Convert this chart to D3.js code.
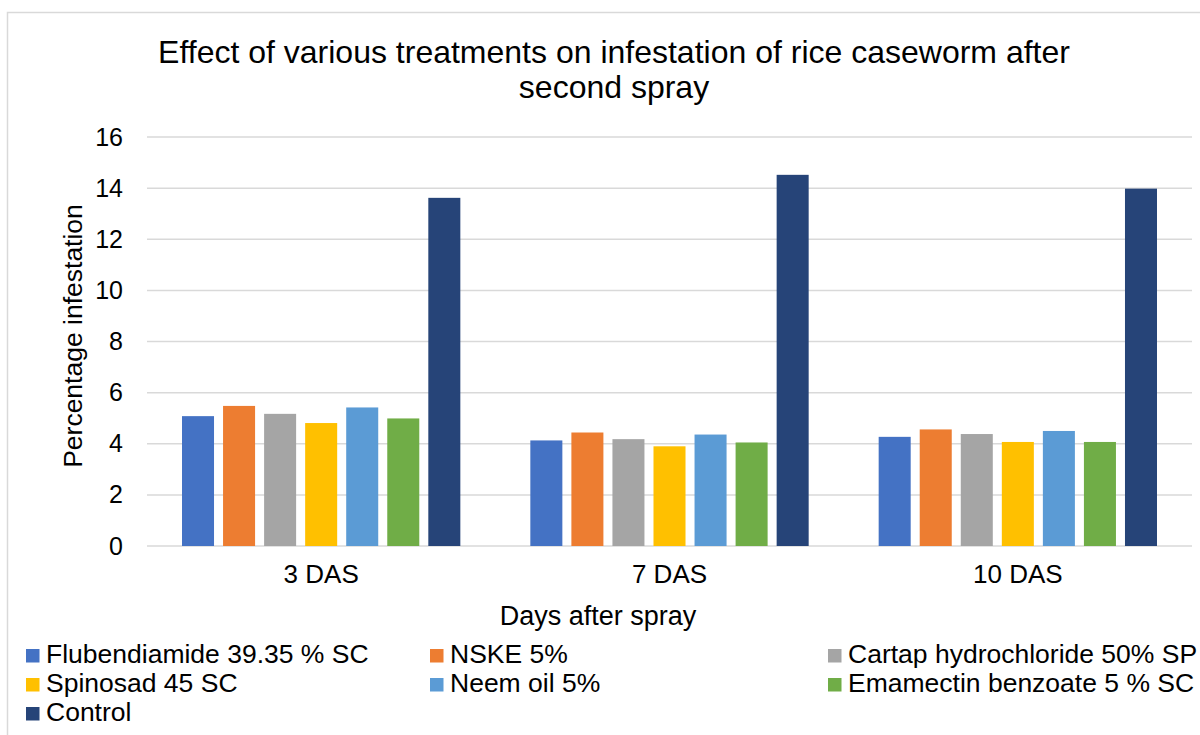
<!DOCTYPE html>
<html>
<head>
<meta charset="utf-8">
<script src="https://cdn.jsdelivr.net/npm/d3@7"></script>
<style>
  body { margin: 0; background: #fff; }
  text { font-family: "Liberation Sans", Arial, sans-serif; fill: #000; }
</style>
</head>
<body>
<div id="chart"></div>
<script>
// data
var days = ["3 DAS", "7 DAS", "10 DAS"];
var treatments = ["Flubendiamide 39.35 % SC", "NSKE 5%", "Cartap hydrochloride 50% SP",
                  "Spinosad 45 SC", "Neem oil 5%", "Emamectin benzoate 5 % SC", "Control"];
var colors = ["#4472C4", "#ED7D31", "#A5A5A5", "#FFC000", "#5B9BD5", "#70AD47", "#264478"];
var flubendiamide = [5.08, 4.13, 4.27];
var nske = [5.48, 4.44, 4.56];
var cartap = [5.17, 4.18, 4.38];
var spinosad = [4.81, 3.90, 4.07];
var neemOil = [5.42, 4.36, 4.50];
var emamectin = [4.99, 4.05, 4.07];
var control = [13.62, 14.52, 13.98];
var yTicks = [0, 2, 4, 6, 8, 10, 12, 14, 16];

var seriesValues = [flubendiamide, nske, cartap, spinosad, neemOil, emamectin, control];

var width = 1200, height = 735;
var margin = {top: 137, right: 8, bottom: 189, left: 147};
var dims = {width: width - margin.left - margin.right, height: height - margin.top - margin.bottom};

var svg = d3.select("#chart").append("svg")
    .attr("width", width)
    .attr("height", height);

// chart area border (cropped on right and bottom)
svg.append("rect")
    .attr("x", 7.5).attr("y", 12.5)
    .attr("width", 1400).attr("height", 900)
    .attr("fill", "none").attr("stroke", "#d9d9d9").attr("stroke-width", 1.5);

var g = svg.append("g")
    .attr("transform", "translate(" + margin.left + "," + margin.top + ")");

var x0 = d3.scaleBand().domain(days).range([0, dims.width]).padding(0);
var x1 = d3.scaleBand().domain(treatments)
    .range([35, x0.bandwidth() - 35])
    .paddingInner(0.22).paddingOuter(0);
var y = d3.scaleLinear().domain([0, 16]).range([dims.height, 0]);

// gridlines
g.selectAll(".grid")
    .data(yTicks)
    .enter().append("line")
      .attr("x1", 0).attr("x2", dims.width)
      .attr("y1", function(d) { return y(d); })
      .attr("y2", function(d) { return y(d); })
      .attr("stroke", "#d9d9d9").attr("stroke-width", 1.5);

// y axis labels
var yAxis = g.append("g")
    .call(d3.axisLeft(y).tickValues(yTicks).tickSize(0).tickPadding(24));
yAxis.select(".domain").remove();
yAxis.selectAll("text")
    .attr("font-size", 25).attr("font-family", "Liberation Sans, Arial, sans-serif").attr("fill", "#000");

// bars
var groups = g.selectAll(".day")
    .data(days)
    .enter().append("g")
      .attr("transform", function(d) { return "translate(" + x0(d) + ",0)"; });

groups.selectAll("rect")
    .data(function(d, i) {
      return treatments.map(function(t, j) { return {t: t, value: seriesValues[j][i], c: colors[j]}; });
    })
    .enter().append("rect")
      .attr("x", function(d) { return x1(d.t); })
      .attr("width", x1.bandwidth())
      .attr("y", function(d) { return y(d.value); })
      .attr("height", function(d) { return dims.height - y(d.value); })
      .attr("fill", function(d) { return d.c; });

// x axis labels
var xAxis = g.append("g")
    .attr("transform", "translate(0," + dims.height + ")")
    .call(d3.axisBottom(x0).tickSize(0).tickPadding(19));
xAxis.select(".domain").remove();
xAxis.selectAll("text")
    .attr("font-size", 26).attr("font-family", "Liberation Sans, Arial, sans-serif").attr("fill", "#000");

// title
svg.append("text")
    .attr("x", 614).attr("y", 62.5)
    .attr("text-anchor", "middle").attr("font-size", 32)
    .text("Effect of various treatments on infestation of rice caseworm after");
svg.append("text")
    .attr("x", 614).attr("y", 98)
    .attr("text-anchor", "middle").attr("font-size", 32)
    .text("second spray");

// axis titles
svg.append("text")
    .attr("transform", "translate(82,336) rotate(-90)")
    .attr("text-anchor", "middle").attr("font-size", 26.5)
    .text("Percentage infestation");
svg.append("text")
    .attr("x", 598).attr("y", 625)
    .attr("text-anchor", "middle").attr("font-size", 27)
    .text("Days after spray");

// legend
var legendCols = [26, 430, 828];
var legendRows = [663, 692, 721];
var legend = svg.selectAll(".legend")
    .data(treatments)
    .enter().append("g")
      .attr("transform", function(d, i) {
        return "translate(" + legendCols[i % 3] + "," + legendRows[Math.floor(i / 3)] + ")";
      });
legend.append("rect")
    .attr("x", 0).attr("y", -14)
    .attr("width", 13.5).attr("height", 13.5)
    .attr("fill", function(d, i) { return colors[i]; });
legend.append("text")
    .attr("x", 20).attr("y", 0)
    .attr("font-size", 26.5)
    .text(function(d) { return d; });
</script>
</body>
</html>
